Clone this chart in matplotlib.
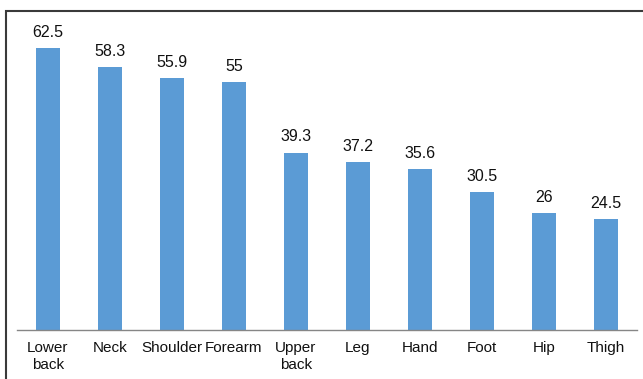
import matplotlib.pyplot as plt
from matplotlib.patches import Rectangle

plt.rcParams['font.family'] = ['Liberation Sans', 'DejaVu Sans']

categories = ['Lower\nback', 'Neck', 'Shoulder', 'Forearm', 'Upper\nback',
              'Leg', 'Hand', 'Foot', 'Hip', 'Thigh']
values = [62.5, 58.3, 55.9, 55, 39.3, 37.2, 35.6, 30.5, 26, 24.5]
value_labels = ['62.5', '58.3', '55.9', '55', '39.3', '37.2', '35.6', '30.5', '26', '24.5']


def main():
    W, H = 643, 379
    fig = plt.figure(figsize=(W / 100, H / 100), dpi=100)
    # plot area in pixels: x 17..637, baseline y=330, top y=14
    ax = fig.add_axes([17 / W, (H - 330) / H, 620 / W, 316 / H])

    x = range(len(categories))
    ax.bar(x, values, width=0.4, color='#5B9BD5', zorder=2)
    for xi, v, lab in zip(x, values, value_labels):
        ax.text(xi, v + 1.8, lab, ha='center', va='bottom', fontsize=11.5, color='#111111')

    ax.set_xlim(-0.5, len(categories) - 0.5)
    ax.set_ylim(0, 70)
    ax.set_xticks(list(x))
    ax.set_xticklabels(categories, fontsize=11, color='#111111', linespacing=1.3)
    ax.tick_params(axis='x', length=0, pad=8)
    ax.set_yticks([])
    for side in ['left', 'right', 'top']:
        ax.spines[side].set_visible(False)
    ax.spines['bottom'].set_color('#868686')
    ax.spines['bottom'].set_linewidth(1.0)
    ax.patch.set_alpha(0)

    # outer chart border (runs past right and bottom edges)
    fig.patches.append(Rectangle((6 / W, -0.1), 1.1, (H - 11) / H + 0.1,
                                 transform=fig.transFigure, fill=False,
                                 edgecolor='#3a3a3a', linewidth=1.5))

    fig.savefig('out.png', dpi=100)


if __name__ == '__main__':
    main()
